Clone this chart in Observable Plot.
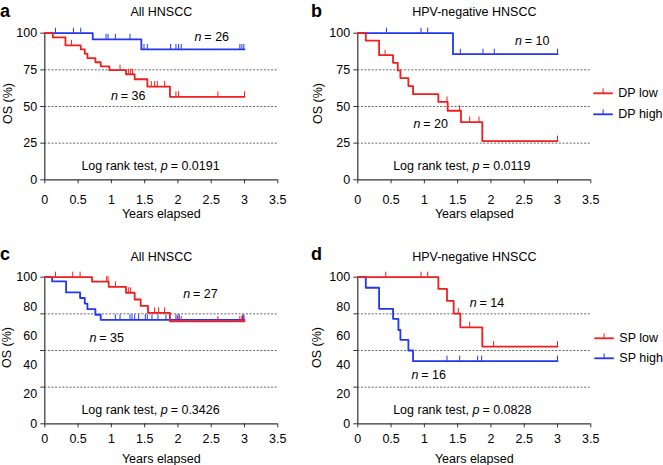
<!DOCTYPE html>
<html><head><meta charset="utf-8">
<script src="https://cdn.jsdelivr.net/npm/d3@7"></script>
<script src="https://cdn.jsdelivr.net/npm/@observablehq/plot@0.6"></script>
<style>
body{margin:0;background:#fff;}
#wrap{position:relative;width:663px;height:465px;font-family:"Liberation Sans",Arial,sans-serif;color:#000;overflow:hidden;background:#fff}
.panel{position:absolute}
.letter{position:absolute;font-weight:bold;font-size:18px;line-height:16px}
.leg{position:absolute;font-size:12.5px;line-height:14px;white-space:nowrap}
</style></head><body><div id="wrap"></div>
<script>
// ---------- data ----------
const xTicks = [0, 0.5, 1, 1.5, 2, 2.5, 3, 3.5];
const yTicksAB = [0, 25, 50, 75, 100];
const yTickMarksCD = [0, 25, 50, 75, 100];
const yLabelsCD = [0, 20, 40, 60, 80, 100];
const gridY = [25, 50, 75];
const endTime = 3.0;

const titles = ["All HNSCC", "HPV-negative HNSCC", "All HNSCC", "HPV-negative HNSCC"];
const letters = ["a", "b", "c", "d"];
const legendB = ["DP low", "DP high"];
const legendD = ["SP low", "SP high"];

// panel a
const aRedT = [0.12, 0.31, 0.54, 0.60, 0.64, 0.76, 0.84, 0.97, 1.22, 1.35, 1.54, 1.88];
const aRedS = [97.2, 91.7, 88.9, 86.0, 83.0, 80.2, 77.4, 74.8, 72.0, 68.6, 63.6, 56.6];
const aRedC = [0.40, 1.13, 1.26, 1.29, 1.32, 1.60, 1.65, 1.69, 1.80, 1.97, 2.01, 2.60, 3.00];
const aBlueT = [0.72, 1.45];
const aBlueS = [95.8, 88.9];
const aBlueC = [0.16, 0.43, 0.54, 0.92, 0.95, 1.06, 1.28, 1.49, 1.54, 1.89, 1.97, 2.01, 2.05, 2.93, 2.96, 2.99];
// panel b
const bRedT = [0.12, 0.32, 0.53, 0.60, 0.64, 0.76, 0.83, 1.21, 1.35, 1.55, 1.87];
const bRedS = [95.0, 85.0, 79.8, 74.6, 69.4, 63.9, 58.4, 53.1, 47.1, 39.4, 26.4];
const bRedC = [0.41, 1.34, 1.53, 1.68, 1.82, 3.00];
const bBlueT = [1.43];
const bBlueS = [85.7];
const bBlueC = [0.43, 0.95, 1.05, 1.54, 1.88, 2.05, 3.00];
// panel c
const cRedT = [0.71, 0.96, 1.22, 1.35, 1.44, 1.55, 1.88];
const cRedS = [97.0, 93.4, 89.4, 84.8, 80.5, 75.7, 69.8];
const cRedC = [0.16, 0.42, 0.53, 0.93, 0.95, 1.06, 1.26, 1.29, 1.65, 1.71, 1.80, 1.99, 2.05, 2.60, 2.93, 2.96, 2.99];
const cBlueT = [0.11, 0.32, 0.53, 0.60, 0.64, 0.76, 0.84];
const cBlueS = [97.1, 89.6, 85.8, 82.0, 78.2, 74.4, 70.9];
const cBlueC = [1.06, 1.13, 1.28, 1.31, 1.35, 1.41, 1.51, 1.54, 1.61, 1.70, 1.82, 1.97, 2.00, 2.02, 2.97, 2.99];
// panel d
const dRedT = [1.21, 1.34, 1.44, 1.54, 1.87];
const dRedS = [92.0, 83.8, 75.2, 65.8, 52.7];
const dRedC = [0.42, 0.95, 1.05, 1.51, 1.68, 2.04, 3.00];
const dBlueT = [0.12, 0.32, 0.53, 0.61, 0.64, 0.76, 0.83];
const dBlueS = [92.8, 78.4, 71.6, 64.0, 57.3, 50.0, 42.7];
const dBlueC = [1.34, 1.53, 1.80, 1.86, 3.00];

// n labels: [x, y, text]
const nLabelsA = [[2.37, 97.1, "= 26"], [1.115, 57.0, "= 36"]];
const nLabelsB = [[2.48, 94.6, "= 10"], [0.957, 38.0, "= 20"]];
const nLabelsC = [[2.20, 88.7, "= 27"], [0.79, 58.7, "= 35"]];
const nLabelsD = [[1.80, 82.5, "= 14"], [0.927, 33.0, "= 16"]];
// log rank annotation: [x, y, p-value text]
const pLabelA = [1.688, 9.7, "= 0.0191"];
const pLabelB = [1.669, 9.7, "= 0.0119"];
const pLabelC = [1.688, 9.75, "= 0.3426"];
const pLabelD = [1.669, 9.75, "= 0.0828"];

// ---------- drawing ----------
const RED = "#f21d1d", BLUE = "#2436f0";
const FONT = '"Liberation Sans", Arial, sans-serif';

function stepPts(T, S) {
  const p = [{t: 0, s: 100}];
  T.forEach((t, i) => p.push({t, s: S[i]}));
  p.push({t: endTime, s: S[S.length - 1]});
  return p;
}
function survAt(T, S, t) { let s = 100; T.forEach((tt, i) => { if (tt <= t) s = S[i]; }); return s; }
function cens(T, S, C) { return C.map(t => ({t, s: survAt(T, S, t)})); }

function panel(cfg) {
  const marks = [
    Plot.ruleY(gridY, {stroke: "#555", strokeWidth: 0.9, strokeDasharray: "2,1.6"}),
    Plot.ruleX([0], {stroke: "#333", strokeWidth: 1.2}),
    Plot.ruleY([0], {stroke: "#333", strokeWidth: 1.2}),
    Plot.axisX({ticks: xTicks, tickSize: 4, tickPadding: cfg.xPad, tickFormat: d => String(d), label: null, stroke: "#333"}),
  ];
  if (cfg.cd) {
    marks.push(Plot.axisY({ticks: yTickMarksCD, tickSize: 4, tickFormat: () => "", label: null, stroke: "#333"}));
    marks.push(Plot.axisY({ticks: yLabelsCD, tickSize: 0, tickPadding: 7.6, label: null}));
  } else {
    marks.push(Plot.axisY({ticks: yTicksAB, tickSize: 4, tickPadding: 3.6, label: null, stroke: "#333"}));
  }
  const series = [[cfg.blue, BLUE], [cfg.red, RED]];
  for (const [[T, S, C], col] of series) {
    marks.push(Plot.line(stepPts(T, S), {x: "t", y: "s", curve: "step-after", stroke: col, strokeWidth: 1.8}));
    marks.push(Plot.ruleX(cens(T, S, C), {x: "t", y1: "s", y2: "s", insetBottom: 5, stroke: col, strokeWidth: 1}));
  }
  marks.push(
    Plot.text([cfg.title], {frameAnchor: "top", textAnchor: "middle", lineAnchor: "middle", dy: cfg.titleDy}),
    Plot.text(["Years elapsed"], {frameAnchor: "bottom", textAnchor: "middle", lineAnchor: "middle", dy: cfg.xLabDy}),
    Plot.text(["OS (%)"], {frameAnchor: "left", textAnchor: "middle", lineAnchor: "middle", rotate: -90, dx: cfg.yLabDx, dy: -3}),
    Plot.text(cfg.n, {x: d => d[0], y: d => d[1], text: () => "n", fontStyle: "italic", textAnchor: "end", dx: -1}),
    Plot.text(cfg.n, {x: d => d[0], y: d => d[1], text: d => d[2], textAnchor: "start", dx: 1.8}),
    Plot.text([cfg.p], {x: d => d[0], y: d => d[1], text: () => "Log rank test,", textAnchor: "end"}),
    Plot.text([cfg.p], {x: d => d[0], y: d => d[1], text: () => "p", fontStyle: "italic", textAnchor: "start", dx: 3.5}),
    Plot.text([cfg.p], {x: d => d[0], y: d => d[1], text: d => d[2], textAnchor: "start", dx: 13.5})
  );
  const svg = Plot.plot({
    width: cfg.w, height: cfg.h,
    marginLeft: cfg.ml, marginRight: cfg.w - cfg.ml - 233, marginTop: cfg.mt, marginBottom: cfg.h - cfg.mt - 146.6,
    x: {domain: [0, 3.5]},
    y: {domain: [0, 100]},
    style: {fontFamily: FONT, fontSize: "12.5px", background: "transparent", overflow: "visible", color: "#000"},
    marks
  });
  svg.classList.add("panel");
  svg.style.left = cfg.left + "px";
  svg.style.top = cfg.top + "px";
  svg.style.position = "absolute";
  return svg;
}

const wrap = document.getElementById("wrap");
wrap.appendChild(panel({left: 0, top: 0, w: 310, h: 232, ml: 44.3, mt: 32.7, xPad: 11.5, titleDy: -21, xLabDy: 34.5, yLabDx: -37,
  title: titles[0], red: [aRedT, aRedS, aRedC], blue: [aBlueT, aBlueS, aBlueC], n: nLabelsA, p: pLabelA}));
wrap.appendChild(panel({left: 310, top: 0, w: 353, h: 232, ml: 47.3, mt: 32.7, xPad: 11.5, titleDy: -21, xLabDy: 34.5, yLabDx: -39.5,
  title: titles[1], red: [bRedT, bRedS, bRedC], blue: [bBlueT, bBlueS, bBlueC], n: nLabelsB, p: pLabelB}));
wrap.appendChild(panel({left: 0, top: 232, w: 310, h: 233, ml: 44.3, mt: 44.7, xPad: 6.5, titleDy: -20, xLabDy: 35, yLabDx: -37.6, cd: true,
  title: titles[2], red: [cRedT, cRedS, cRedC], blue: [cBlueT, cBlueS, cBlueC], n: nLabelsC, p: pLabelC}));
wrap.appendChild(panel({left: 310, top: 232, w: 353, h: 233, ml: 47.3, mt: 44.7, xPad: 6.5, titleDy: -20, xLabDy: 35, yLabDx: -40.6, cd: true,
  title: titles[3], red: [dRedT, dRedS, dRedC], blue: [dBlueT, dBlueS, dBlueC], n: nLabelsD, p: pLabelD}));

// panel letters
const letterPos = [[0, 2.5], [311, 2.5], [0, 246], [311, 246]];
letters.forEach((l, i) => {
  const d = document.createElement("div");
  d.className = "letter"; d.textContent = l;
  d.style.left = letterPos[i][0] + "px"; d.style.top = letterPos[i][1] + "px";
  wrap.appendChild(d);
});

// legends
function legend(labels, x0, yCenters) {
  const ns = "http://www.w3.org/2000/svg";
  const s = document.createElementNS(ns, "svg");
  s.setAttribute("width", 663); s.setAttribute("height", 465);
  s.style.position = "absolute"; s.style.left = "0px"; s.style.top = "0px"; s.style.overflow = "visible";
  [RED, BLUE].forEach((col, i) => {
    const y = yCenters[i];
    const l = document.createElementNS(ns, "line");
    l.setAttribute("x1", x0); l.setAttribute("x2", x0 + 19.5); l.setAttribute("y1", y); l.setAttribute("y2", y);
    l.setAttribute("stroke", col); l.setAttribute("stroke-width", 1.8);
    s.appendChild(l);
    const t = document.createElementNS(ns, "line");
    t.setAttribute("x1", x0 + 9.8); t.setAttribute("x2", x0 + 9.8); t.setAttribute("y1", y); t.setAttribute("y2", y - 5);
    t.setAttribute("stroke", col); t.setAttribute("stroke-width", 1);
    s.appendChild(t);
  });
  wrap.appendChild(s);
  labels.forEach((txt, i) => {
    const d = document.createElement("div");
    d.className = "leg"; d.textContent = txt;
    d.style.left = (x0 + 25) + "px"; d.style.top = (yCenters[i] - 7) + "px";
    wrap.appendChild(d);
  });
}
legend(legendB, 593.3, [93.3, 114.3]);
legend(legendD, 594.3, [338.3, 358.3]);
</script>
</body></html>
